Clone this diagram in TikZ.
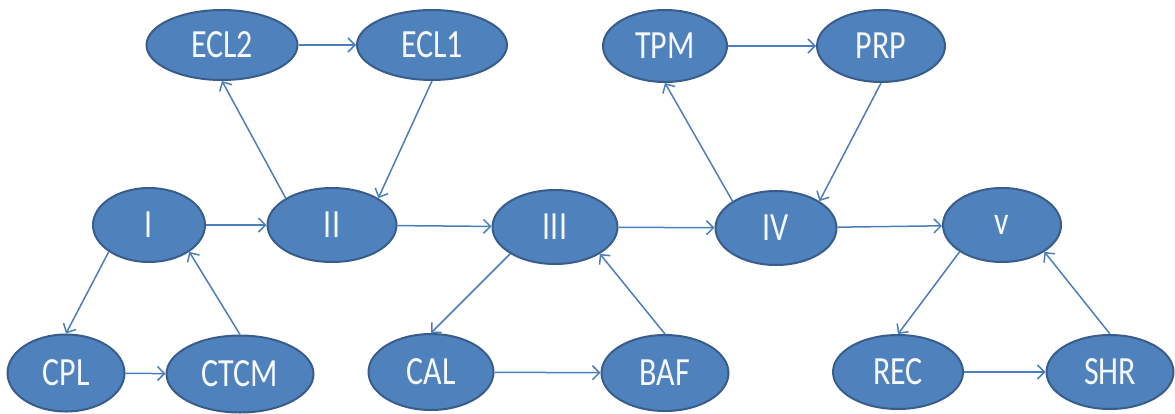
\documentclass[tikz,border=0pt]{standalone}
\usepackage{fontspec}
\setmainfont{Carlito}
\usetikzlibrary{shapes.geometric, arrows.meta}

\definecolor{ovalfill}{HTML}{4F81BD}
\definecolor{ovaldraw}{HTML}{385D8A}
\definecolor{linkblue}{HTML}{4A7EBB}
\newcommand{\narrow}[1]{\scalebox{0.8}[1]{#1}}

\begin{document}
\begin{tikzpicture}
                        [
                            x=1pt, y=-1pt,
                            oval/.style = {draw=ovaldraw, fill=ovalfill, shape=ellipse, minimum height=74pt, inner sep=0pt, line width=2pt, text=white!95!ovalfill, font=\fontsize{40}{48}\selectfont},
                            link/.style = {draw=linkblue, line width=1.5pt, -{Straight Barb[length=7pt,width=14pt,line width=1.5pt]}},
                        ]
                        \useasboundingbox (0,0) rectangle (1175,413);

                        \node[oval, minimum width=151pt, minimum height=70pt] (ecl2) at (222,45)  {\narrow{ECL2}};
                        \node[oval, minimum width=150pt, minimum height=70pt] (ecl1) at (432,45)  {\narrow{ECL1}};
                        \node[oval, minimum width=124pt, minimum height=72pt] (tpm)  at (665,46)  {\narrow{TPM}};
                        \node[oval, minimum width=128pt, minimum height=72pt] (prp)  at (881,46)  {\narrow{PRP}};

                        \node[oval, minimum width=112pt] (i)   at (149,225)  {\narrow{I}};
                        \node[oval, minimum width=129pt] (ii)  at (332,225)  {\narrow{II}};
                        \node[oval, minimum width=125pt] (iii) at (555,227)  {\narrow{III}};
                        \node[oval, minimum width=121pt] (iv)  at (776,228)  {\narrow{IV}};
                        \node[oval, minimum width=118pt] (v)   at (1002,225) {\narrow{v}};

                        \node[oval, minimum width=117pt, minimum height=77pt] (cpl)  at (66,373)   {\narrow{CPL}};
                        \node[oval, minimum width=147pt, minimum height=77pt] (ctcm) at (240,374)  {\narrow{CTCM}};
                        \node[oval, minimum width=125pt, minimum height=76pt] (cal)  at (431,372)  {\narrow{CAL}};
                        \node[oval, minimum width=127pt, minimum height=76pt] (baf)  at (665,373)  {\narrow{BAF}};
                        \node[oval, minimum width=130pt] (rec)  at (898,372)  {\narrow{REC}};
                        \node[oval, minimum width=127pt] (shr)  at (1110,372) {\narrow{SHR}};

                        % main chain
                        \draw[link] (i) -- (ii);
                        \draw[link] (ii) -- (iii);
                        \draw[link] (iii) -- (iv);
                        \draw[link] (iv) -- (v);

                        % loops
                        \draw[link] (ii.north west) -- (ecl2.south);
                        \draw[link] (ecl2) -- (ecl1);
                        \draw[link] (ecl1.south) -- (ii.north east);

                        \draw[link] (iv.north west) -- (tpm.south);
                        \draw[link] (tpm) -- (prp);
                        \draw[link] (prp.south) -- (iv.north east);

                        \draw[link] (i.south west) -- (cpl.north);
                        \draw[link] (cpl) -- (ctcm);
                        \draw[link] (ctcm.north) -- (i.south east);

                        \draw[link] (iii.south west) -- (cal.north);
                        \draw[link] (cal) -- (baf);
                        \draw[link] (baf.north) -- (iii.south east);

                        \draw[link] (v.south west) -- (rec.north);
                        \draw[link] (rec) -- (shr);
                        \draw[link] (shr.north) -- (v.south east);
                    \end{tikzpicture}
\end{document}
